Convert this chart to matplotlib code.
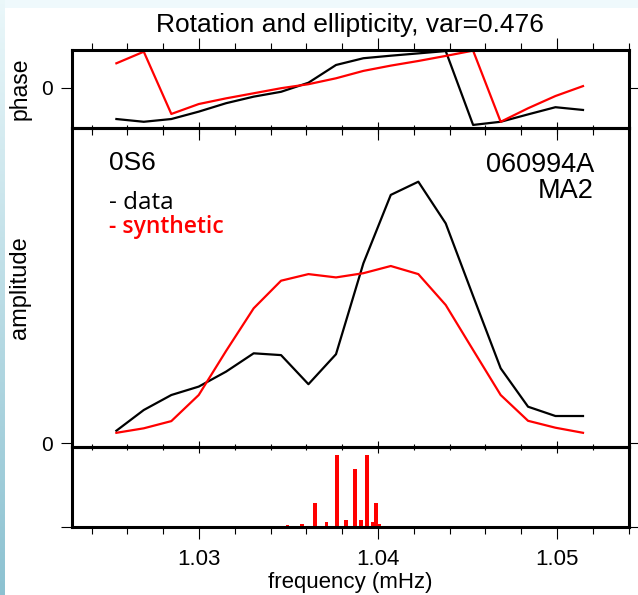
import numpy as np
import matplotlib.pyplot as plt
from matplotlib.ticker import MultipleLocator

plt.rcParams['font.family'] = ['Liberation Sans', 'DejaVu Sans']

# frequency samples (mHz)
freq = [1.02538, 1.02691, 1.02845, 1.02998, 1.03151, 1.03305, 1.03458, 1.03611, 1.03765,
        1.03918, 1.04071, 1.04225, 1.04378, 1.04531, 1.04685, 1.04838, 1.04991, 1.05145]

# phase (degrees)
phase_data = [-147, -160, -147, -112, -72, -41, -18, 25, 109,
              141, 153, 164, 175, -175, -160, -125, -91, -104]
phase_synth = [117, 172, -123, -76, -49, -25, -1, 18, 46,
               81, 106, 128, 152, 177, -160, -96, -38, 9]

# amplitude (normalised)
amp_data = [0.041, 0.110, 0.160, 0.188, 0.238, 0.299, 0.293, 0.196, 0.296,
            0.599, 0.827, 0.871, 0.732, 0.490, 0.249, 0.121, 0.090, 0.090]
amp_synth = [0.034, 0.049, 0.073, 0.160, 0.307, 0.449, 0.541, 0.563, 0.552,
             0.566, 0.590, 0.563, 0.460, 0.310, 0.160, 0.074, 0.051, 0.034]

# singlet frequencies and relative strengths
line_freq = [1.03494, 1.03575, 1.03646, 1.03712, 1.03771, 1.03820,
             1.03870, 1.03907, 1.03939, 1.03969, 1.03987, 1.04004]
line_amp = [0.028, 0.042, 0.333, 0.074, 1.0, 0.097,
            0.80, 0.097, 1.0, 0.074, 0.333, 0.042]

W, H = 638, 595
fig = plt.figure(figsize=(W / 100, H / 100), dpi=100)

# light cyan page border
bg = np.ones((H, W, 3))
bg[:8, :, :] = [0.94, 0.98, 0.99]
shade = np.linspace(0.0, 1.0, H)[:, None]
top_c = np.array([0.92, 0.97, 0.98])
bot_c = np.array([0.55, 0.76, 0.82])
bg[:, :5, :] = (top_c * (1 - shade) + bot_c * shade)[:, None, :]
bax = fig.add_axes([0, 0, 1, 1], zorder=-10)
bax.imshow(bg, aspect='auto', interpolation='bilinear')
bax.axis('off')

left, width = 72 / W, 557 / W
ax_ph = fig.add_axes([left, 1 - 128 / H, width, 78 / H])
ax_am = fig.add_axes([left, 1 - 446.7 / H, width, 318.7 / H])
ax_ln = fig.add_axes([left, 1 - 527 / H, width, 80.3 / H])

xlim = (1.0229, 1.05402)
for ax in (ax_ph, ax_am, ax_ln):
    ax.set_xlim(*xlim)
    ax.patch.set_alpha(0)
    for s in ax.spines.values():
        s.set_linewidth(2.2)
    ax.xaxis.set_major_locator(MultipleLocator(0.01))
    ax.xaxis.set_minor_locator(MultipleLocator(0.002))
    ax.tick_params(which='major', length=8.5, width=0.8)
    ax.tick_params(which='minor', length=5, width=0.8)
    ax.tick_params(axis='y', length=8, width=0.8, direction='out', left=True, right=True,
                   pad=6)

# phase panel
ax_ph.plot(freq, phase_data, color='black', lw=1.6)
ax_ph.plot(freq, phase_synth, color='red', lw=1.6)
ax_ph.set_ylim(-189.5, 180)
ax_ph.set_yticks([0])
ax_ph.set_yticklabels(['0'], fontsize=15)
ax_ph.tick_params(axis='x', which='both', top=True, bottom=True, labelbottom=False)
ax_ph.tick_params(axis='x', which='both', direction='out')
ax_ph.set_ylabel('phase', fontsize=16.5, labelpad=7)
fig.text(350 / W, 1 - 32 / H, 'Rotation and ellipticity, var=0.476',
         fontsize=19, ha='center', va='baseline')

# amplitude panel
ax_am.plot(freq, amp_data, color='black', lw=1.6)
ax_am.plot(freq, amp_synth, color='red', lw=1.6)
ax_am.set_ylim(-0.0123, 1.05)
ax_am.set_yticks([0])
ax_am.set_yticklabels(['0'], fontsize=15)
ax_am.tick_params(axis='x', which='both', top=True, bottom=True, labelbottom=False)
ax_am.tick_params(axis='x', which='both', direction='inout')
ax_am.set_ylabel('amplitude', fontsize=17, labelpad=7)
ax_am.text(0.066, 0.889, '0S6', transform=ax_am.transAxes, fontsize=19, va='center')
ax_am.text(0.937, 0.883, '060994A', transform=ax_am.transAxes, fontsize=19.5,
           va='center', ha='right')
ax_am.text(0.937, 0.801, 'MA2', transform=ax_am.transAxes, fontsize=19.5,
           va='center', ha='right')
ax_am.text(0.066, 0.764, '- data', transform=ax_am.transAxes, fontsize=17.5,
           va='center', family='Open Sans')
ax_am.text(0.066, 0.689, '- synthetic', transform=ax_am.transAxes, fontsize=16.5,
           va='center', family='Open Sans', color='red', weight='semibold')

# singlet lines panel
ax_ln.bar(line_freq, line_amp, width=0.00022, color='red')
ax_ln.set_ylim(0, 1.11)
ax_ln.set_yticks([0])
ax_ln.set_yticklabels([''])
ax_ln.tick_params(axis='x', which='both', top=False, bottom=True, direction='out')
ax_ln.set_xticks([1.03, 1.04, 1.05])
ax_ln.set_xticklabels(['1.03', '1.04', '1.05'], fontsize=16)
ax_ln.tick_params(axis='x', which='major', pad=7)
ax_ln.set_xlabel('frequency (mHz)', fontsize=16, labelpad=2)

fig.savefig('out.png', dpi=100)
